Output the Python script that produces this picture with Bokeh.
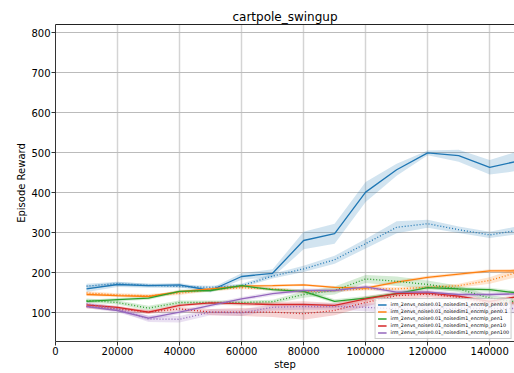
from bokeh.plotting import figure
from bokeh.models import Legend, LegendItem, LinearAxis, Range1d, FixedTicker
from bokeh.embed import file_html
from bokeh.resources import INLINE

steps = [10000, 20000, 30000, 40000, 50000, 60000, 70000, 80000, 90000, 100000,
         110000, 120000, 130000, 140000, 150000]

labels = [
    "irm_2envs_noise0.01_noisedim1_encmlp_pen0.0",
    "irm_2envs_noise0.01_noisedim1_encmlp_pen0.1",
    "irm_2envs_noise0.01_noisedim1_encmlp_pen1",
    "irm_2envs_noise0.01_noisedim1_encmlp_pen10",
    "irm_2envs_noise0.01_noisedim1_encmlp_pen100",
]
colors = ["#1f77b4", "#ff7f0e", "#2ca02c", "#d62728", "#9467bd"]

# solid (train) series
pen0_solid = [159, 170, 167, 169, 155, 190, 198, 280, 297, 401, 457, 499, 492, 463, 480]
pen0_1_solid = [145, 142, 140, 152, 159, 166, 167, 169, 163, 161, 176, 188, 196, 204, 204]
pen1_solid = [128, 132, 136, 153, 155, 167, 157, 153, 128, 136, 147, 162, 159, 157, 148]
pen10_solid = [119, 113, 101, 118, 124, 122, 120, 120, 118, 134, 147, 149, 141, 128, 141]
pen100_solid = [115, 105, 86, 101, 118, 134, 147, 155, 155, 164, 151, 151, 145, 145, 147]

# dotted (eval) series
pen0_dot = [166, 172, 168, 165, 163, 167, 191, 209, 232, 272, 313, 322, 307, 294, 307]
pen0_1_dot = [149, 144, 142, 148, 157, 162, 159, 152, 155, 159, 159, 163, 167, 180, 203]
pen1_dot = [130, 125, 111, 125, 125, 125, 127, 145, 155, 184, 178, 170, 159, 136, 125]
pen10_dot = [115, 109, 101, 109, 101, 101, 101, 97, 105, 125, 142, 146, 138, 124, 124]
pen100_dot = [122, 109, 84, 83, 101, 99, 113, 115, 115, 113, 109, 109, 110, 110, 110]

# band half widths
pen0_solid_err = [8, 6, 5, 5, 5, 8, 10, 22, 25, 25, 15, 6, 15, 18, 25]
pen0_1_solid_err = [4, 3, 3, 3, 3, 3, 3, 3, 3, 4, 4, 4, 4, 4, 5]
pen1_solid_err = [4, 4, 4, 4, 4, 4, 4, 5, 5, 5, 5, 5, 5, 5, 5]
pen10_solid_err = [4, 4, 4, 4, 4, 5, 6, 8, 6, 6, 5, 5, 5, 5, 5]
pen100_solid_err = [4, 5, 6, 5, 5, 5, 5, 5, 5, 5, 5, 5, 5, 5, 5]
pen0_dot_err = [6, 5, 4, 4, 4, 5, 6, 8, 10, 12, 15, 10, 8, 8, 10]
pen0_1_dot_err = [4, 4, 4, 4, 4, 4, 4, 4, 4, 4, 4, 4, 5, 8, 12]
pen1_dot_err = [5, 5, 6, 5, 5, 5, 5, 8, 10, 10, 12, 10, 8, 8, 6]
pen10_dot_err = [5, 5, 5, 5, 8, 10, 12, 15, 12, 10, 8, 8, 6, 6, 6]
pen100_dot_err = [5, 6, 8, 8, 8, 8, 8, 8, 8, 10, 12, 12, 12, 12, 12]

solid = [pen0_solid, pen0_1_solid, pen1_solid, pen10_solid, pen100_solid]
solid_err = [pen0_solid_err, pen0_1_solid_err, pen1_solid_err, pen10_solid_err, pen100_solid_err]
dotted = [pen0_dot, pen0_1_dot, pen1_dot, pen10_dot, pen100_dot]
dotted_err = [pen0_dot_err, pen0_1_dot_err, pen1_dot_err, pen10_dot_err, pen100_dot_err]

x_ticks = [0, 20000, 40000, 60000, 80000, 100000, 120000, 140000]
y_ticks = [100, 200, 300, 400, 500, 600, 700, 800]

FONT = "DejaVu Sans"

p = figure(width=514, height=373, output_backend="svg", toolbar_location=None,
           x_range=Range1d(0, 148000), y_range=Range1d(27.5, 820),
           title="cartpole_swingup",
           min_border_left=55, min_border_right=0, min_border_top=24, min_border_bottom=32)
p.title.text_font = FONT
p.title.text_font_size = "12px"
p.title.text_font_style = "normal"
p.title.text_color = "black"
p.title.align = "center"
p.title.offset = 3
p.title.standoff = 2
p.outline_line_color = None
p.background_fill_color = "white"

for ax in (p.xaxis[0], p.yaxis[0]):
    ax.axis_line_color = "#333333"
    ax.major_tick_line_color = "#333333"
    ax.major_tick_out = 4
    ax.major_tick_in = 0
    ax.minor_tick_line_color = None
    ax.major_label_text_font = FONT
    ax.major_label_text_font_size = "10px"
    ax.major_label_text_color = "black"
    ax.axis_label_text_font = FONT
    ax.axis_label_text_font_size = "10px"
    ax.axis_label_text_font_style = "normal"
    ax.axis_label_text_color = "black"
    ax.axis_label_standoff = 1
    ax.major_label_standoff = 1

p.xaxis.ticker = FixedTicker(ticks=x_ticks)
p.yaxis.ticker = FixedTicker(ticks=y_ticks)
p.xaxis.axis_label = "step"
p.yaxis.axis_label = "Episode Reward"
p.xaxis.formatter.use_scientific = False

top = LinearAxis(major_tick_line_color=None, minor_tick_line_color=None,
                 major_label_text_font_size="0px", axis_line_color="#222222")
top.ticker = FixedTicker(ticks=[])
p.add_layout(top, "above")

p.ygrid.grid_line_color = "#bbbbbb"
p.ygrid.grid_line_width = 1
p.xgrid.grid_line_color = "#d4d4d4"
p.xgrid.grid_line_width = 1.5

items = []
for i in range(5):
    c = colors[i]
    lo = [v - e for v, e in zip(solid[i], solid_err[i])]
    hi = [v + e for v, e in zip(solid[i], solid_err[i])]
    p.varea(x=steps, y1=lo, y2=hi, fill_color=c, fill_alpha=0.2)
    lo = [v - e for v, e in zip(dotted[i], dotted_err[i])]
    hi = [v + e for v, e in zip(dotted[i], dotted_err[i])]
    p.varea(x=steps, y1=lo, y2=hi, fill_color=c, fill_alpha=0.2)

for i in range(5):
    c = colors[i]
    r = p.line(steps, solid[i], line_color=c, line_width=1.3)
    p.line(steps, dotted[i], line_color=c, line_width=1.3, line_dash="1 2")
    items.append(LegendItem(label=labels[i], renderers=[r]))

legend = Legend(items=items, location="bottom_right")
legend.label_text_font = FONT
legend.label_text_font_size = "4.8px"
legend.label_text_color = "black"
legend.glyph_height = 7
legend.glyph_width = 9
legend.label_height = 7
legend.spacing = 0
legend.padding = 2
legend.margin = 2
legend.label_standoff = 4
legend.border_line_color = "#999999"
legend.background_fill_alpha = 0.8
p.add_layout(legend)

open("out.html", "w").write(file_html(p, INLINE))
